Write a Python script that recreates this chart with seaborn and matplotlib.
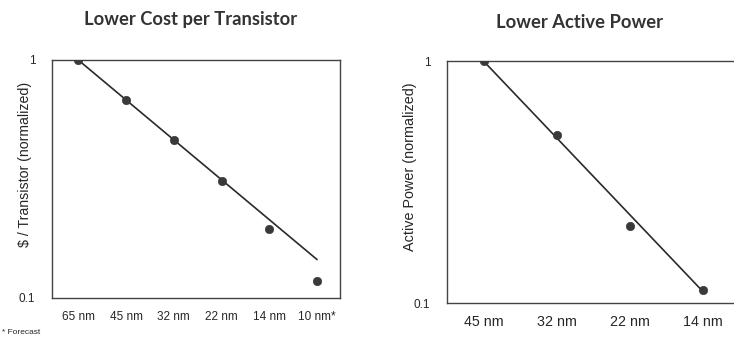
import matplotlib
matplotlib.use("Agg")
import matplotlib.pyplot as plt
import seaborn as sns
import numpy as np
import pandas as pd

# ---- data ----
cost_nodes = ["65 nm", "45 nm", "32 nm", "22 nm", "14 nm", "10 nm*"]
cost_values = [1.0, 0.68, 0.46, 0.31, 0.195, 0.118]
cost_trend_nodes = ["65 nm", "10 nm*"]
cost_trend_values = [1.0, 0.145]

power_nodes = ["45 nm", "32 nm", "22 nm", "14 nm"]
power_values = [1.0, 0.494, 0.208, 0.113]
power_trend_nodes = ["45 nm", "14 nm"]
power_trend_values = [1.0, 0.112]

y_ticks = [0.1, 1]
y_tick_labels = ["0.1", "1"]

sns.set_theme(style="white")
plt.rcParams["font.family"] = ["Liberation Sans", "DejaVu Sans"]

W, H = 734, 339
TXT = "#262626"
fig = plt.figure(figsize=(W / 100, H / 100), dpi=100)


def px_axes(left, top, right, bottom):
    return fig.add_axes([left / W, 1 - bottom / H, (right - left) / W, (bottom - top) / H])


def draw(ax, nodes, values, tnodes, tvalues, xlim, xfs):
    df = pd.DataFrame({"pos": np.arange(len(nodes)), "val": values})
    tdf = pd.DataFrame({"pos": [nodes.index(n) for n in tnodes], "val": tvalues})
    sns.lineplot(data=tdf, x="pos", y="val", ax=ax, color="#2a2a2a", linewidth=1.2)
    sns.scatterplot(data=df, x="pos", y="val", ax=ax, color="#3a3a3a", s=36,
                    edgecolor="#3a3a3a", linewidth=0.5, zorder=3)
    ax.set_yscale("log")
    ax.set_ylim(0.1, 1)
    ax.set_xlim(*xlim)
    ax.set_xticks(np.arange(len(nodes)))
    ax.set_xticklabels(nodes, fontsize=xfs, color=TXT)
    ax.set_yticks(y_ticks)
    ax.set_yticklabels(y_tick_labels, fontsize=8.5, color=TXT)
    ax.yaxis.set_minor_locator(matplotlib.ticker.NullLocator())
    ax.tick_params(axis="x", length=0, pad=9)
    ax.tick_params(axis="y", length=0, pad=12)
    ax.set_xlabel("")
    ax.set_ylabel("")
    for s in ax.spines.values():
        s.set_color("#444444")
        s.set_linewidth(1.0)


ax1 = px_axes(52, 60, 340, 298)
draw(ax1, cost_nodes, cost_values, cost_trend_nodes, cost_trend_values, (-0.55, 5.48), 8.5)

ax2 = px_axes(447, 61, 739, 303)
draw(ax2, power_nodes, power_values, power_trend_nodes, power_trend_values, (-0.5, 3.5), 10.3)

title_font = dict(family=["Lato", "DejaVu Sans"], fontweight="bold", fontsize=13.2, color="#333333")
fig.text(191 / W, 1 - 20 / H, "Lower Cost per Transistor", ha="center", va="center", **title_font)
fig.text(580 / W, 1 - 22 / H, "Lower Active Power", ha="center", va="center", **title_font)

fig.text(25 / W, 1 - 164 / H, "$ / Transistor (normalized)", rotation=90,
         ha="center", va="center", fontsize=10.2, color=TXT)
fig.text(410 / W, 1 - 167 / H, "Active Power (normalized)", rotation=90,
         ha="center", va="center", fontsize=10.4, color=TXT)
fig.text(2 / W, 1 - 333 / H, "* Forecast", ha="left", va="center", fontsize=6, color=TXT)

fig.savefig("out.png", dpi=100)
